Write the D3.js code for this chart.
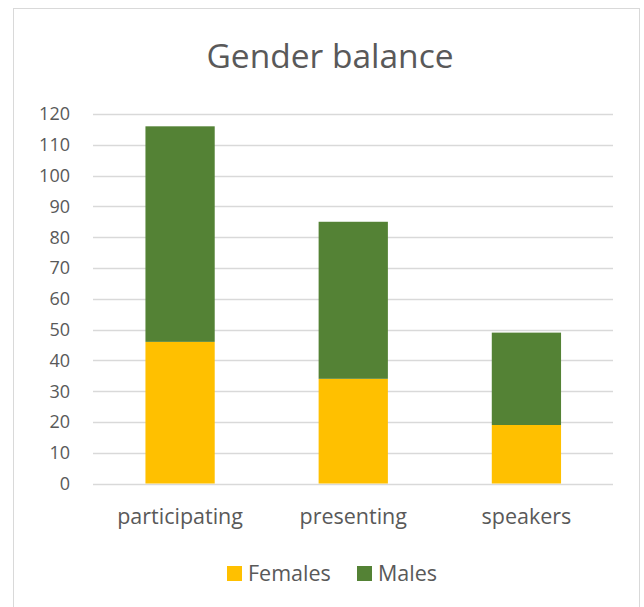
<!DOCTYPE html>
<html>
<head>
<meta charset="utf-8">
<script src="https://cdn.jsdelivr.net/npm/d3@7"></script>
<style>
  body { margin: 0; background: #fff; }
  svg text { font-family: "Open Sans", Lato, sans-serif; fill: #595959; }
</style>
</head>
<body>
<svg id="chart" width="644" height="607"></svg>
<script>
const categories = ['participating', 'presenting', 'speakers'];
const females = [46, 34, 19];
const males = [70, 51, 30];
const seriesNames = ['Females', 'Males'];
const seriesColors = ['#ffc000', '#548235'];
const yTicks = d3.range(0, 121, 10);

const svg = d3.select('#chart');

// chart frame
svg.append('rect')
  .attr('x', 13.5).attr('y', 8.5)
  .attr('width', 626).attr('height', 620)
  .attr('fill', '#fff')
  .attr('stroke', '#d9d9d9');

const x = d3.scaleBand()
  .domain(categories)
  .range([93.5, 613])
  .paddingInner(0.6)
  .paddingOuter(0.3);
const y = d3.scaleLinear().domain([0, 120]).range([483.5, 114]);

// grid
svg.append('g').selectAll('line')
  .data(yTicks)
  .enter().append('line')
  .attr('x1', 93).attr('x2', 613)
  .attr('y1', (d) => Math.round(y(d)) + 0.5)
  .attr('y2', (d) => Math.round(y(d)) + 0.5)
  .attr('stroke', '#d9d9d9')
  .attr('stroke-width', 1.5);

// y tick labels
svg.append('g').selectAll('text')
  .data(yTicks)
  .enter().append('text')
  .attr('x', 70)
  .attr('y', (d) => y(d))
  .attr('dy', '0.36em')
  .attr('text-anchor', 'end')
  .attr('font-size', 18)
  .text((d) => d);

// stacked bars
const rows = categories.map((c, i) => ({cat: c, Females: females[i], Males: males[i]}));
const stack = d3.stack().keys(seriesNames)(rows);

svg.append('g').selectAll('g')
  .data(stack)
  .enter().append('g')
  .attr('fill', (d, i) => seriesColors[i])
  .selectAll('rect')
  .data((d) => d)
  .enter().append('rect')
  .attr('x', (d) => x(d.data.cat))
  .attr('width', x.bandwidth())
  .attr('y', (d) => y(d[1]))
  .attr('height', (d) => y(d[0]) - y(d[1]));

// category labels
svg.append('g').selectAll('text')
  .data(categories)
  .enter().append('text')
  .attr('x', (d) => x(d) + x.bandwidth() / 2)
  .attr('y', 524)
  .attr('text-anchor', 'middle')
  .attr('font-size', 21.5)
  .text((d) => d);

// title
svg.append('text')
  .attr('x', 330).attr('y', 68)
  .attr('text-anchor', 'middle')
  .attr('font-size', 33.5)
  .text('Gender balance');

// legend
const legend = svg.append('g');
const legendX = [227, 357];
seriesNames.forEach((name, i) => {
  legend.append('rect')
    .attr('x', legendX[i]).attr('y', 566)
    .attr('width', 15).attr('height', 15)
    .attr('fill', seriesColors[i]);
  legend.append('text')
    .attr('x', legendX[i] + 21).attr('y', 581)
    .attr('font-size', 21.5)
    .text(name);
});
</script>
</body>
</html>
